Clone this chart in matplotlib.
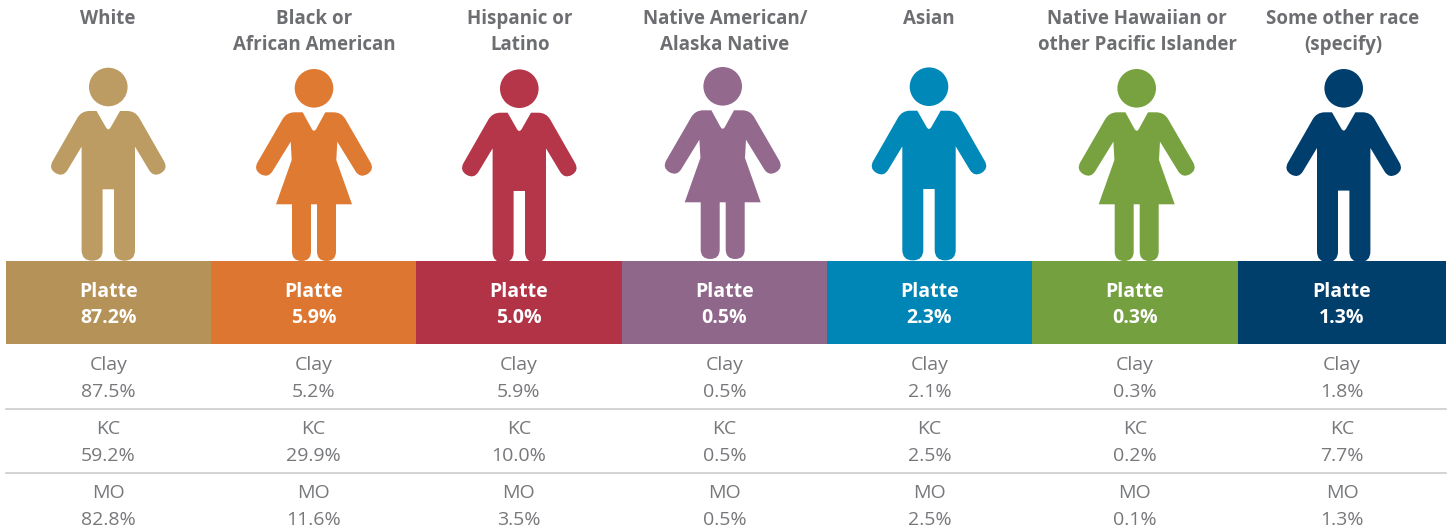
import matplotlib
matplotlib.use("Agg")
import numpy as np
from matplotlib import pyplot as plt
from matplotlib.patches import Circle, PathPatch
from matplotlib.path import Path

plt.rcParams['font.family'] = ['Open Sans', 'DejaVu Sans']

# data
categories = ["White", "Black or\nAfrican American", "Hispanic or\nLatino",
              "Native American/\nAlaska Native", "Asian",
              "Native Hawaiian or\nother Pacific Islander", "Some other race\n(specify)"]
platte = [87.2, 5.9, 5.0, 0.5, 2.3, 0.3, 1.3]
clay = [87.5, 5.2, 5.9, 0.5, 2.1, 0.3, 1.8]
kc = [59.2, 29.9, 10.0, 0.5, 2.5, 0.2, 7.7]
mo = [82.8, 11.6, 3.5, 0.5, 2.5, 0.1, 1.3]
genders = ["m", "f", "m", "f", "m", "f", "m"]
bar_colors = ["#b59257", "#dd7631", "#b23346", "#8f678a", "#0086b6", "#75a03f", "#003e6c"]
icon_colors = ["#bc9c62", "#df7a33", "#b53549", "#93698d", "#0088b8", "#77a23f", "#003e6d"]

edges = [6, 211, 416, 622, 827, 1032, 1238, 1446]
icon_x = [108.3, 314, 519.3, 722.7, 929, 1136.7, 1343.7]
icon_dy = [0, 0, 1.7, -2, -0.3, 0, 1.3]
header_x = [108, 314, 520, 725, 929, 1137, 1343]
grey = "#77787b"
header_grey = "#6d6e71"

# left half of each icon: x offset from centre, y in px, corner radius
man_half = [(0, 131.5, 5), (-11.7, 111, 0), (-27, 111, 8), (-60.05, 168.8, 8.6), (-45.25, 177.5, 8.6),
            (-26.7, 146.7, 0), (-26.7, 260.7, 10.5), (-5.7, 260.7, 10.5), (-5.7, 189.3, 0)]
woman_half = [(0, 133, 5), (-11.3, 112.3, 0), (-27.5, 112.3, 8), (-60.75, 169.8, 8.6), (-45.95, 178.5, 8.6),
              (-23.3, 141.7, 0), (-22.3, 160, 0), (-38, 204.3, 0), (-22, 204.3, 0),
              (-22, 261, 9.5), (-3, 261, 9.5), (-3, 204.3, 0)]


def rounded_path(corners):
    # polygon with quadratic corners
    pts, codes = [], []
    n = len(corners)
    for i in range(n):
        p = np.array(corners[i][:2], dtype=float)
        r = corners[i][2]
        if r == 0:
            pts.append(p)
            codes.append(Path.LINETO)
            continue
        a = np.array(corners[i - 1][:2], dtype=float)
        b = np.array(corners[(i + 1) % n][:2], dtype=float)
        p1 = p + (a - p) / np.linalg.norm(a - p) * r
        p2 = p + (b - p) / np.linalg.norm(b - p) * r
        pts += [p1, p, p2]
        codes += [Path.LINETO, Path.CURVE3, Path.CURVE3]
    codes[0] = Path.MOVETO
    pts.append(pts[0])
    codes.append(Path.CLOSEPOLY)
    return Path(pts, codes)


def draw_person(ax, cx, head_y, dy, half, color):
    ax.add_patch(Circle((cx, head_y + dy), 19.3, fc=color, ec="none", zorder=2))
    mirrored = [(-x, y, r) for x, y, r in reversed(half[1:])]
    corners = [(cx + x, y + dy, r) for x, y, r in half + mirrored]
    ax.add_patch(PathPatch(rounded_path(corners), fc=color, ec="none", zorder=2))


fig = plt.figure(figsize=(14.52, 5.32), dpi=100)
ax = fig.add_axes([0, 0, 1, 1])
ax.set_xlim(0, 1452)
ax.set_ylim(532, 0)
ax.axis("off")

for i, cat in enumerate(categories):
    left, right = edges[i], edges[i + 1]
    cx = (left + right) / 2
    ax.bar(left, 82.5, width=right - left, bottom=261, align="edge", color=bar_colors[i], zorder=3)
    for j, line in enumerate(cat.split("\n")):
        ax.text(header_x[i], 24 + 26 * j, line, ha="center", va="baseline", fontsize=13.5,
                fontweight="bold", color=header_grey)
    if genders[i] == "m":
        draw_person(ax, icon_x[i], 87, icon_dy[i], man_half, icon_colors[i])
    else:
        draw_person(ax, icon_x[i], 88.3, icon_dy[i], woman_half, icon_colors[i])
    ax.text(cx, 296.7, "Platte", ha="center", va="baseline", fontsize=14, fontweight="bold", color="white", zorder=4)
    ax.text(cx, 323.3, f"{platte[i]:.1f}%", ha="center", va="baseline", fontsize=14, fontweight="bold", color="white", zorder=4)
    for name, vals, y in (("Clay", clay, 370), ("KC", kc, 434), ("MO", mo, 498)):
        ax.text(cx, y, name, ha="center", va="baseline", fontsize=14, color=grey)
        ax.text(cx, y + 27, f"{vals[i]:.1f}%", ha="center", va="baseline", fontsize=14, color=grey)

for y in (408.5, 473):
    ax.plot([6, 1446], [y, y], color="#c7c8ca", lw=1.1, zorder=1)

fig.savefig("out.png", dpi=100)
